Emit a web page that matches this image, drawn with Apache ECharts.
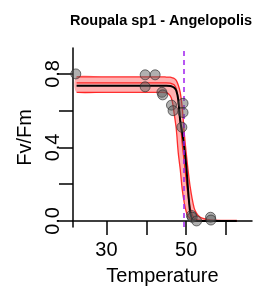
<!DOCTYPE html>
<html>
<head>
<meta charset="utf-8">
<script src="https://cdn.jsdelivr.net/npm/echarts@6/dist/echarts.min.js"></script>
<style>
  html, body { margin: 0; padding: 0; background: #fff; }
  #chart { width: 259px; height: 295px; }
</style>
</head>
<body>
<div id="chart"></div>
<script>
// temperature grid the curves were read at
var temps = [22.5, 30, 40, 44, 45, 46, 46.5, 47, 47.5, 48, 48.5, 49, 49.5, 50, 50.5, 51, 51.5, 52, 52.5, 53, 54, 56, 62.7];
// fitted curve (black)
var fitCurve = [0.735, 0.735, 0.735, 0.735, 0.735, 0.734, 0.731, 0.725, 0.71, 0.66, 0.545, 0.48, 0.40, 0.30, 0.16, 0.045, 0.01, 0.003, 0.001, 0, 0, 0, 0];
// red curves (bootstrap / CI)
var redLow  = [0.70, 0.70, 0.70, 0.70, 0.698, 0.68, 0.65, 0.58, 0.50, 0.37, 0.28, 0.17, 0.10, 0.05, 0.025, 0.012, 0.005, 0.002, 0.001, 0, 0, 0, 0];
var redMid  = [0.751, 0.751, 0.751, 0.751, 0.751, 0.75, 0.746, 0.74, 0.72, 0.66, 0.55, 0.42, 0.32, 0.22, 0.13, 0.07, 0.035, 0.015, 0.008, 0.005, 0.002, 0, 0];
var redHigh = [0.784, 0.784, 0.784, 0.784, 0.783, 0.782, 0.779, 0.775, 0.765, 0.74, 0.70, 0.62, 0.48, 0.37, 0.27, 0.185, 0.12, 0.07, 0.045, 0.03, 0.015, 0.006, 0.003];
// observations
var obsTemp = [22.3, 39.7, 39.7, 42.2, 43.9, 44.1, 46.3, 46.7, 49.2, 49.2, 48.9, 51.3, 51.5, 52.6, 56.1, 56.2];
var obsFvFm = [0.80, 0.795, 0.73, 0.795, 0.70, 0.686, 0.63, 0.60, 0.64, 0.59, 0.51, 0.03, 0.02, 0.0, 0.02, 0.005];
// vertical reference line
var t50 = 49.4;
var xTicks = [30, 40, 50, 60];
var xLabels = [30, 50];
var yTicks = [0, 0.2, 0.4, 0.6, 0.8];
var yLabels = [0, 0.4, 0.8];

function pairs(xs, ys) {
    return xs.map(function (x, i) { return [x, ys[i]]; });
}

var font = 'Liberation Sans, Arial, sans-serif';
var chart = echarts.init(document.getElementById('chart'), null, {renderer: 'canvas'});

var redLine = function (name, ys) {
    return {
        name: name, type: 'line', data: pairs(temps, ys), symbol: 'none', smooth: 0.3,
        lineStyle: {color: 'rgba(255,0,0,0.8)', width: 1.3}, z: 3, silent: true
    };
};

// band polygon: upper curve forward, lower curve back
function renderBand(params, api) {
    var pts = [];
    temps.forEach(function (t, i) { pts.push(api.coord([t, redHigh[i]])); });
    for (var i = temps.length - 1; i >= 0; i--) pts.push(api.coord([temps[i], redLow[i]]));
    return {
        type: 'polygon',
        shape: {points: pts, smooth: 0.3},
        style: {fill: 'rgba(255,0,0,0.3)'}
    };
}

chart.setOption({
    animation: false,
    title: {
        text: 'Roupala sp1 - Angelopolis', left: 65, top: 8,
        textStyle: {fontFamily: font, fontSize: 14.5, fontWeight: 'bold', color: '#000'}
    },
    grid: {left: 73, right: 7, top: 48, bottom: 68},
    xAxis: {
        type: 'value', min: 21.6, max: 66.5,
        name: 'Temperature', nameLocation: 'middle', nameGap: 39,
        nameTextStyle: {fontFamily: font, fontSize: 20, color: '#000'},
        axisLine: {lineStyle: {color: '#000', width: 1.5}},
        axisTick: {length: 14, customValues: xTicks, lineStyle: {color: '#000', width: 1.5}},
        axisLabel: {customValues: xLabels, margin: 13, fontFamily: font, fontSize: 20, color: '#000'},
        splitLine: {show: false}
    },
    yAxis: {
        type: 'value', min: -0.033, max: 0.941,
        name: 'Fv/Fm', nameLocation: 'middle', nameGap: 38,
        nameTextStyle: {fontFamily: font, fontSize: 20, color: '#000'},
        axisLine: {show: true, lineStyle: {color: '#000', width: 1.5}},
        axisTick: {show: true, length: 14, customValues: yTicks, lineStyle: {color: '#000', width: 1.5}},
        axisLabel: {
            customValues: yLabels, rotate: 90, margin: 10, fontFamily: font, fontSize: 20, color: '#000',
            formatter: function (v) { return v.toFixed(1); }
        },
        splitLine: {show: false}
    },
    series: [
        {
            name: 'band', type: 'custom', data: [[temps[0], redHigh[0]]],
            renderItem: renderBand, silent: true, z: 1
        },
        redLine('low', redLow),
        redLine('mid', redMid),
        redLine('high', redHigh),
        {
            name: 'fit', type: 'line', data: pairs(temps, fitCurve), symbol: 'none', smooth: 0.3,
            lineStyle: {color: '#000', width: 2}, z: 4, silent: true,
            markLine: {
                silent: true, symbol: 'none', label: {show: false},
                lineStyle: {color: '#a020f0', width: 1.5, type: [5, 4]},
                data: [{xAxis: t50}]
            }
        },
        {
            name: 'obs', type: 'scatter', data: pairs(obsTemp, obsFvFm), symbolSize: 10,
            itemStyle: {color: 'rgba(90,90,90,0.6)', borderColor: 'rgba(40,40,40,0.8)', borderWidth: 1},
            z: 5
        }
    ]
});
</script>
</body>
</html>
